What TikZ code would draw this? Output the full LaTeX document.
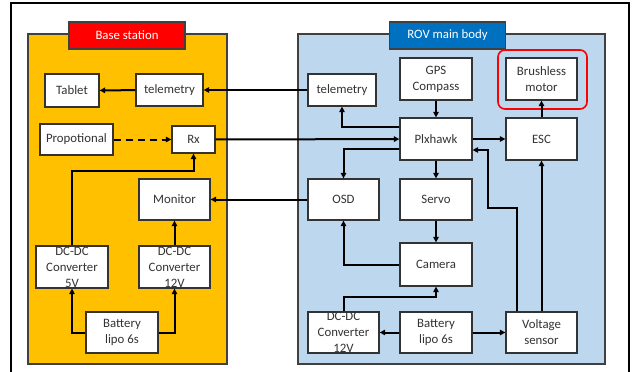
\documentclass[tikz,border=0pt]{standalone}
\usepackage{fontspec}
\setmainfont{Carlito}
\usepackage{xcolor}
\usepackage{tikz}
\usetikzlibrary{arrows.meta}

\definecolor{baseorange}{HTML}{FFC000}
\definecolor{rovblue}{HTML}{BDD7EE}
\definecolor{titleblue}{HTML}{0070C0}
\definecolor{titlered}{HTML}{FF0000}

\tikzset{
    blk/.style={draw=black!80, fill=white, line width=1.3pt, align=center, inner sep=0pt,
        text=black!80, font=\fontsize{12.8}{16}\selectfont},
    panel/.style={draw=black!75, line width=1.3pt},
    title/.style={draw=black!75, line width=1.3pt, text=white, minimum width=116pt,
        minimum height=27pt, inner sep=0pt, font=\fontsize{12.8}{16}\selectfont},
    arr/.style={line width=2pt, -{Triangle[length=5.5pt,width=5.5pt]}}
}

\begin{document}
\begin{tikzpicture}[x=1pt, y=-1pt]
    \useasboundingbox (0,0) rectangle (635,372);
    \draw[line width=1.6pt] (11,380) -- (11,3) -- (629,3) -- (629,380);

    % panels
    \draw[panel, fill=baseorange] (28,34) rectangle (227,364);
    \draw[panel, fill=rovblue] (298,34) rectangle (605,364);
    \node[title, fill=titlered] (basetitle) at (127,35.5) {Base station};
    \node[title, fill=titleblue] (rovtitle) at (447.5,35.5) {ROV main body};

    % base station
    \node[blk, minimum width=54pt, minimum height=33pt] (tablet) at (72,90.5) {Tablet};
    \node[blk, minimum width=67pt, minimum height=32pt] (telB) at (169.5,90) {telemetry};
    \node[blk, minimum width=73pt, minimum height=31pt] (prop) at (76.5,139.5) {Propotional};
    \node[blk, minimum width=43pt, minimum height=27pt] (rx) at (193.5,139.5) {Rx};
    \node[blk, minimum width=71pt, minimum height=41pt] (monitor) at (174.5,199.5) {Monitor};
    \node[blk, minimum width=72pt, minimum height=42pt] (dcfive) at (72,267) {DC-DC\\Converter\\5V};
    \node[blk, minimum width=71pt, minimum height=42pt] (dctwelve) at (174.5,267) {DC-DC\\Converter\\12V};
    \node[blk, minimum width=72pt, minimum height=41pt] (batB) at (122,332.5) {Battery\\lipo 6s};

    % ROV main body
    \node[blk, minimum width=68pt, minimum height=32pt] (telR) at (342,90) {telemetry};
    \node[blk, minimum width=72pt, minimum height=42pt] (gps) at (436,79) {GPS\\Compass};
    \node[blk, minimum width=71pt, minimum height=42pt] (motor) at (541.5,79) {Brushless\\motor};
    \node[blk, minimum width=72pt, minimum height=42pt] (pix) at (436,139) {Plxhawk};
    \node[blk, minimum width=71pt, minimum height=42pt] (esc) at (541.5,139) {ESC};
    \node[blk, minimum width=71pt, minimum height=41pt] (osd) at (343.5,199.5) {OSD};
    \node[blk, minimum width=72pt, minimum height=41pt] (servo) at (436,199.5) {Servo};
    \node[blk, minimum width=72pt, minimum height=43pt] (cam) at (436,264.5) {Camera};
    \node[blk, minimum width=71pt, minimum height=41pt] (dcR) at (343.5,332.5) {DC-DC\\Converter\\12V};
    \node[blk, minimum width=72pt, minimum height=41pt] (batR) at (436,332.5) {Battery\\lipo 6s};
    \node[blk, minimum width=71pt, minimum height=41pt] (volt) at (541.5,332.5) {Voltage\\sensor};

    \draw[titlered, line width=1.6pt, rounded corners=7pt] (498,50) rectangle (587,109);

    % base station links
    \draw[arr] (telB) -- (tablet);
    \draw[arr, dash pattern=on 7pt off 5pt] (prop) -- (rx);
    \draw[arr] (dcfive.north) -- ++(0,-74) -| (rx.south);
    \draw[arr] (dctwelve) -- (monitor);
    \draw[arr] (batB.west) -| (dcfive.south);
    \draw[arr] (batB.east) -| (dctwelve.south);

    % between panels
    \draw[arr] (telR) -- (telB);
    \draw[arr] (rx) -- (pix);
    \draw[arr] (osd) -- (monitor);

    % ROV links
    \draw[arr] (gps) -- (pix);
    \draw[arr] ([yshift=12pt]pix.west) -| (telR.south);
    \draw[arr] ([yshift=-10pt]pix.west) -| (osd.north);
    \draw[arr] (pix) -- (servo);
    \draw[arr] (pix) -- (esc);
    \draw[arr] (esc) -- (motor);
    \draw[arr] (volt) -- (esc);
    \draw[arr] ([xshift=-24.5pt]volt.north) -- ++(0,-103) -- ++(-29,0) |- ([yshift=-11pt]pix.east);
    \draw[arr] (servo) -- (cam);
    \draw[arr] (cam.west) -| (osd.south);
    \draw[arr] (dcR.north) -- ++(0,-14) -| (cam.south);
    \draw[arr] (batR) -- (dcR);
    \draw[arr] (batR) -- (volt);
\end{tikzpicture}
\end{document}
